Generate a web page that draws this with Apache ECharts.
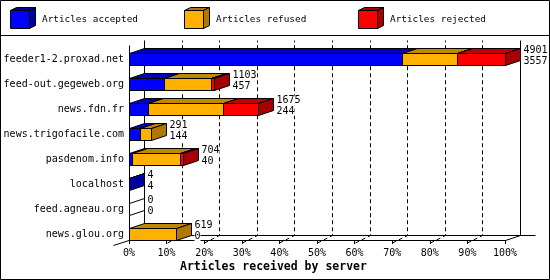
<!DOCTYPE html>
<html><head><meta charset="utf-8">
<script src="https://cdn.jsdelivr.net/npm/echarts@6/dist/echarts.min.js"></script>
<style>html,body{margin:0;padding:0;background:#fff}#c{width:550px;height:280px}</style>
</head><body><div id="c"></div>
<script>
const categories = ['feeder1-2.proxad.net','feed-out.gegeweb.org','news.fdn.fr','news.trigofacile.com','pasdenom.info','localhost','feed.agneau.org','news.glou.org'];
const accepted = [3557, 457, 244, 144, 40, 4, 0, 0];
const refused  = [712, 618, 977, 147, 630, 0, 0, 619];
const rejected = [632, 28, 454, 0, 34, 0, 0, 0];
const seriesNames = ['Articles accepted', 'Articles refused', 'Articles rejected'];
const xTicks = [0, 10, 20, 30, 40, 50, 60, 70, 80, 90, 100];
const axisTitle = 'Articles received by server';

const frontColors = ['#0000ff', '#ffb000', '#ff0000'];
const topColors   = ['#0000b8', '#c08800', '#c00000'];
const sideColors  = ['#0000a0', '#b07800', '#a80000'];
const MONO = '"DejaVu Sans Mono", "Liberation Mono", monospace';
const D = 15, H = 5;
const R = v => Math.round(v) + 0.5;

const values = [accepted, refused, rejected];
const totals = categories.map((c, i) => accepted[i] + refused[i] + rejected[i]);
const maxTotal = Math.max(...totals);
const pct = v => v / maxTotal * 100;

function boxShapes(x0, x1, yT, yB, k) {
  const st = {stroke: '#000', lineWidth: 1};
  return [
    {type: 'polygon', shape: {points: [[x0, yT], [x1, yT], [x1, yB], [x0, yB]]}, style: Object.assign({fill: frontColors[k]}, st)},
    {type: 'polygon', shape: {points: [[x0, yT], [x0 + D, yT - H], [x1 + D, yT - H], [x1, yT]]}, style: Object.assign({fill: topColors[k]}, st)},
    {type: 'polygon', shape: {points: [[x1, yT], [x1 + D, yT - H], [x1 + D, yB - H], [x1, yB]]}, style: Object.assign({fill: sideColors[k]}, st)}
  ];
}

function segSeries(k) {
  const data = categories.map((c, i) => {
    let start = 0;
    for (let j = 0; j < k; j++) start += values[j][i];
    return [pct(start), pct(start + values[k][i]), i, values[k][i], totals[i]];
  });
  return {
    type: 'custom', name: seriesNames[k], coordinateSystem: 'cartesian2d', z: 2,
    data: data, encode: {x: [0, 1], y: 2}, silent: true,
    renderItem(params, api) {
      const p0 = api.coord([api.value(0), api.value(2)]);
      const p1 = api.coord([api.value(1), api.value(2)]);
      const yT = R(p0[1] - 6), yB = R(p0[1] + 6);
      const x0 = R(p0[0]), x1 = R(p1[0]);
      if (api.value(3) <= 0) {
        if (k === 0 && api.value(4) <= 0) {
          return {type: 'polygon', shape: {points: [[x0, yT], [x0 + D, yT - H], [x0 + D, yB - H], [x0, yB]]},
                  style: {fill: '#fff', stroke: '#000', lineWidth: 1}};
        }
        return null;
      }
      return {type: 'group', children: boxShapes(x0, x1, yT, yB, k)};
    }
  };
}

const labelSeries = {
  type: 'custom', coordinateSystem: 'cartesian2d', z: 3, silent: true,
  data: categories.map((c, i) => [pct(totals[i]), i, totals[i], accepted[i]]),
  encode: {x: 0, y: 1},
  renderItem(params, api) {
    const p = api.coord([api.value(0), api.value(1)]);
    const x = R(p[0]) + D + 3;
    const mk = (t, y) => ({type: 'text', style: {text: String(t), x: x, y: y, align: 'left', verticalAlign: 'middle',
      font: '10px ' + MONO, fill: '#000', backgroundColor: '#fff'}});
    return {type: 'group', children: [mk(api.value(2), p[1] - 8.5), mk(api.value(3), p[1] + 2)]};
  }
};

const frameSeries = {
  type: 'custom', coordinateSystem: 'cartesian2d', z: 1, silent: true,
  data: xTicks.map(t => [t, 0]),
  encode: {x: 0, y: 1},
  renderItem(params, api) {
    const cs = params.coordSys;
    const yFront = cs.y + cs.height - 6.5;
    const yBack = R(yFront - H);
    const yTop = R(cs.y - 6.5);
    const t = api.value(0);
    const x = R(api.coord([t, 0])[0]);
    const line = (pts, dash) => ({type: 'polyline', shape: {points: pts},
      style: {stroke: '#000', lineWidth: 1, fill: null, lineDash: dash || null}});
    const ch = [];
    if (t === 0) {
      ch.push(line([[x, R(cs.y - 1.5)], [x, R(yFront)]]));
      ch.push(line([[x + D, yTop], [x + D, yBack], [x + D + 376 + 15, yBack]]));
      ch.push(line([[x + D, yBack], [x - 16, yBack + 10]]));
    } else if (t === 100) {
      ch.push(line([[x + D, yTop], [x + D, yBack]]));
      ch.push(line([[x, R(yFront)], [x + D, yBack]]));
    } else {
      ch.push(line([[x, yFront + 3], [x + D, yBack], [x + D, yTop]], [4, 3]));
    }
    return {type: 'group', children: ch};
  }
};

const legendGraphics = [];
const legendX = [10, 184, 358];
seriesNames.forEach((n, k) => {
  const x0 = legendX[k] + 0.5, x1 = x0 + 19, yT = 10.5, yB = 28.5, d = 6, h = 3;
  legendGraphics.push({type: 'polygon', shape: {points: [[x0, yT], [x1, yT], [x1, yB], [x0, yB]]}, style: {fill: frontColors[k], stroke: '#000', lineWidth: 1}});
  legendGraphics.push({type: 'polygon', shape: {points: [[x0, yT], [x0 + d, yT - h], [x1 + d, yT - h], [x1, yT]]}, style: {fill: sideColors[k], stroke: '#000', lineWidth: 1}});
  legendGraphics.push({type: 'polygon', shape: {points: [[x1, yT], [x1 + d, yT - h], [x1 + d, yB - h], [x1, yB]]}, style: {fill: sideColors[k], stroke: '#000', lineWidth: 1}});
  legendGraphics.push({type: 'text', style: {text: n, x: legendX[k] + 32, y: 20, verticalAlign: 'middle', font: '9.4px ' + MONO, fill: '#000'}});
});
legendGraphics.push({type: 'line', shape: {x1: 0, y1: 35.5, x2: 550, y2: 35.5}, style: {stroke: '#000', lineWidth: 1}});
legendGraphics.push({type: 'rect', shape: {x: 0.5, y: 0.5, width: 549, height: 279}, style: {fill: null, stroke: '#000', lineWidth: 1}});

const chart = echarts.init(document.getElementById('c'), null, {renderer: 'canvas'});
chart.setOption({
  animation: false,
  backgroundColor: '#fff',
  title: {text: axisTitle, left: 180, top: 261, padding: 0,
    textStyle: {fontFamily: MONO, fontWeight: 'bold', fontSize: 11.5, color: '#000'}},
  grid: {left: 129, right: 45, top: 46.5, bottom: 33.5, containLabel: false},
  xAxis: {type: 'value', min: 0, max: 100, interval: 10, offset: -6.5,
    axisLine: {show: true, lineStyle: {color: '#000', width: 1}},
    axisTick: {show: true, length: 4, lineStyle: {color: '#000'}},
    axisLabel: {formatter: '{value}%', margin: 8, color: '#000', fontFamily: MONO, fontSize: 10},
    splitLine: {show: false}},
  yAxis: {type: 'category', data: categories, inverse: true,
    axisLine: {show: false}, axisTick: {show: false}, splitLine: {show: false},
    axisLabel: {margin: 5, color: '#000', fontFamily: MONO, fontSize: 10}},
  graphic: legendGraphics,
  series: [frameSeries, segSeries(0), segSeries(1), segSeries(2), labelSeries]
});
</script></body></html>
